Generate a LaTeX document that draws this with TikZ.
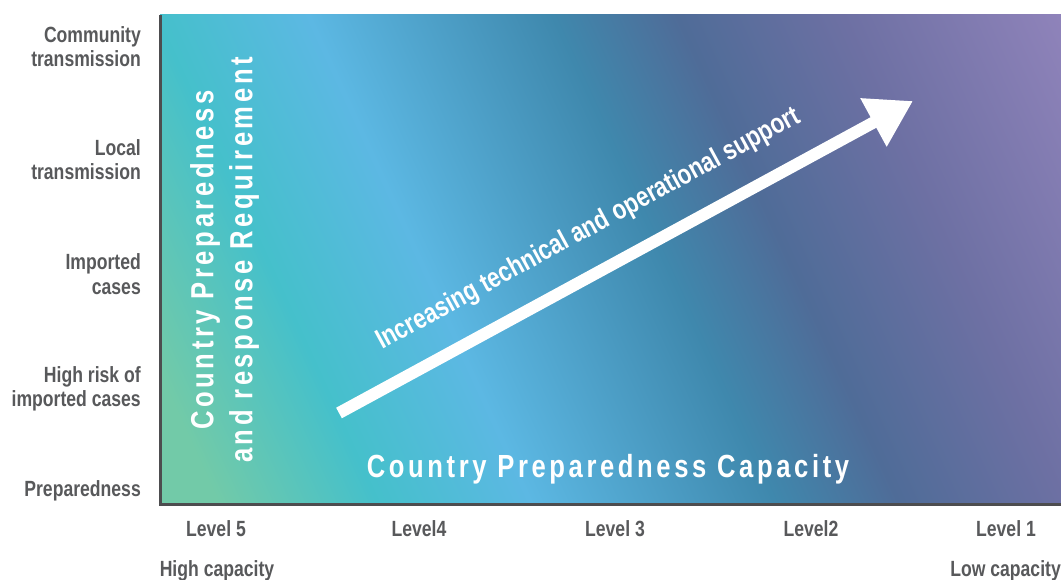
\documentclass[tikz,border=0pt]{standalone}
\usepackage{fontspec}
\usetikzlibrary{arrows.meta}
\setmainfont{Liberation Sans}
\newfontfamily\condfont[FakeStretch=0.8]{Liberation Sans}
\newfontfamily\trackfont[FakeStretch=0.8,LetterSpace=11.3]{Liberation Sans}
\definecolor{labelgrey}{HTML}{58595B}
\definecolor{axisgrey}{HTML}{4D4D4F}
\definecolor{gradA}{HTML}{72CAA8}
\definecolor{gradB}{HTML}{45C0CB}
\definecolor{gradC}{HTML}{5CB8E3}
\definecolor{gradD}{HTML}{3F88AD}
\definecolor{gradE}{HTML}{4F6C98}
\definecolor{gradF}{HTML}{6D70A3}
\definecolor{gradG}{HTML}{8F83BA}
\pgfdeclarehorizontalshading{capshade}{100bp}{color(0bp)=(gradA); color(27.9bp)=(gradA); color(34.86bp)=(gradB); color(41.59bp)=(gradC); color(52.26bp)=(gradD); color(57.69bp)=(gradE); color(64.9bp)=(gradF); color(74.5bp)=(gradG); color(100bp)=(gradG)}

\begin{document}
\begin{tikzpicture}[x=1pt,y=1pt,
    ylab/.style={anchor=east,align=right,inner sep=0pt,text=labelgrey,font=\condfont\bfseries\fontsize{22}{24.5}\selectfont},
    xlab/.style={anchor=base,inner sep=0pt,text=labelgrey,font=\condfont\bfseries\fontsize{22}{24.5}\selectfont},
    title/.style={inner sep=0pt,text=white,font=\trackfont\bfseries\fontsize{32}{39}\selectfont}]
    \useasboundingbox (0,0) rectangle (1061,580);

    \begin{scope}
        \clip (160,75) rectangle (1061,565);
        \begin{scope}[transform canvas={rotate=24.5}]
            \shade[shading=capshade] (170,-390) rectangle (1210,470);
        \end{scope}
    \end{scope}

    \coordinate (origin) at (160,75);
    \coordinate (ytop) at (160,565);
    \coordinate (xend) at (1061,75);
    \draw[axisgrey, line width=3pt] (ytop) -- (origin) -- (xend);

    \node[ylab] (community) at (141,533.5) {Community\\transmission};
    \node[ylab] (local) at (141,420.5) {Local\\transmission};
    \node[ylab] (imported) at (141,306) {Imported\\cases};
    \node[ylab] (highrisk) at (141,191) {High risk of\\imported cases};
    \node[ylab] (prep) at (141,89) {Preparedness};

    \node[xlab] (lvlfive) at (216,43) {Level 5};
    \node[xlab] (lvlfour) at (419,43) {Level4};
    \node[xlab] (lvlthree) at (615,43) {Level 3};
    \node[xlab] (lvltwo) at (811,43) {Level2};
    \node[xlab] (lvlone) at (1006,43) {Level 1};
    \node[xlab] (highcap) at (217,3) {High capacity};
    \node[xlab, anchor=base east] (lowcap) at (1061,3) {Low capacity};

    \node[title, rotate=90, align=center] (requirement) at (224.5,320) {Country Preparedness\\and response Requirement};
    \node[title, anchor=base] (capacity) at (608,102) {Country Preparedness Capacity};

    \coordinate (supstart) at (339,167);
    \coordinate (suptip) at (913,479);
    \draw[white, line width=12pt, -{Triangle[width=52pt,length=45pt]}] (supstart) -- node[sloped, pos=0.47, above=23pt, inner sep=0pt, font=\condfont\bfseries\fontsize{28}{30}\selectfont] (support) {Increasing technical and operational support} (suptip);
\end{tikzpicture}
\end{document}
